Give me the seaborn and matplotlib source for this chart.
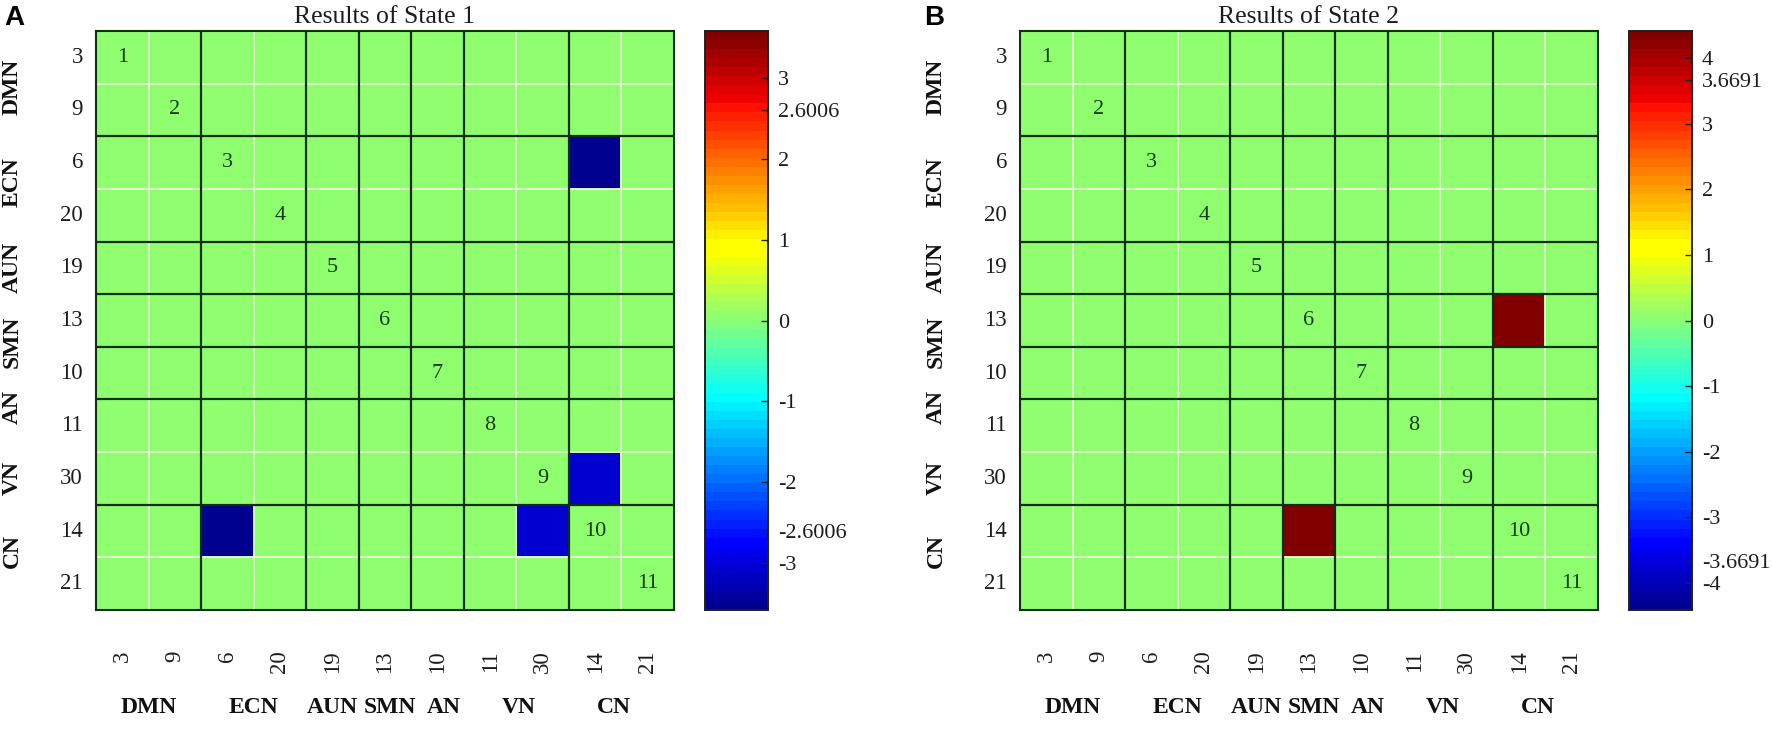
import numpy as np
import pandas as pd
import matplotlib
matplotlib.use("Agg")
import matplotlib.pyplot as plt
from matplotlib.colors import ListedColormap
import seaborn as sns

networks = ["3", "9", "6", "20", "19", "13", "10", "11", "30", "14", "21"]
diag_labels = ["1", "2", "3", "4", "5", "6", "7", "8", "9", "10", "11"]

# nonzero cells, (row network, column network, value)
state1_cells = [("6", "14", -3.52), ("14", "6", -3.52), ("30", "14", -3.1), ("14", "30", -3.1)]
state2_cells = [("13", "14", 4.4), ("14", "13", 4.4)]

state1_lim = 3.58
state2_lim = 4.41
state1_ticks = [-3, -2.6006, -2, -1, 0, 1, 2, 2.6006, 3]
state2_ticks = [-4, -3.6691, -3, -2, -1, 0, 1, 2, 3, 3.6691, 4]

group_names = ["DMN", "ECN", "AUN", "SMN", "AN", "VN", "CN"]
group_edges = [2, 4, 5, 6, 7, 9]
inner_edges = [1, 3, 8, 10]
group_x = [1.0, 3.0, 4.49, 5.6, 6.62, 8.05, 9.85]
group_y = [1.07, 2.88, 4.5, 5.9, 7.15, 8.5, 9.87]

plt.rcParams["font.family"] = ["Liberation Serif", "DejaVu Serif"]
W, H = 1772, 730
line_col = "#0f2f10"
text_col = "#1c1c1c"

# 64 level jet, its green at zero is a bit yellower than the matplotlib one
idx = np.arange(1, 65)
red = np.minimum((idx - 24) / 16, (72 - idx) / 16)
green = np.minimum((idx - 8) / 16, (57 - idx) / 16)
blue = np.minimum((idx + 8) / 16, (40 - idx) / 16)
jet64 = ListedColormap(np.clip(np.column_stack([red, green, blue]), 0, 1))


def panel(left, cbar_left, cells, lim, ticks, title, letter, letter_x):
    df = pd.DataFrame(0.0, index=networks, columns=networks)
    for r, c, v in cells:
        df.loc[r, c] = v
    annot = pd.DataFrame("", index=networks, columns=networks)
    for n, lab in zip(networks, diag_labels):
        annot.loc[n, n] = lab

    ax = fig.add_axes([left / W, 1 - 610 / H, 578 / W, 579 / H])
    cax = fig.add_axes([cbar_left / W, 1 - 610 / H, 63 / W, 579 / H])
    sns.heatmap(df, ax=ax, cbar_ax=cax, cmap=jet64, vmin=-lim, vmax=lim,
                annot=annot, fmt="", annot_kws={"fontsize": 16, "color": "#173a18"},
                xticklabels=networks, yticklabels=networks,
                cbar_kws={"ticks": ticks})

    # light lines inside the networks, dark ones between them
    ax.hlines(inner_edges, 0, 11, color="#dcf8c8", lw=1.4)
    ax.vlines(inner_edges, 0, 11, color="#dcf8c8", lw=1.4)
    ax.hlines(group_edges, 0, 11, color=line_col, lw=1.6)
    ax.vlines(group_edges, 0, 11, color=line_col, lw=1.6)
    for s in ax.spines.values():
        s.set_visible(True)
        s.set_color(line_col)
        s.set_linewidth(1.5)

    ax.tick_params(axis="both", length=0, labelsize=16.5, labelcolor=text_col)
    ax.tick_params(axis="x", pad=29)
    ax.tick_params(axis="y", pad=9.4)
    plt.setp(ax.get_xticklabels(), rotation=90)
    plt.setp(ax.get_yticklabels(), rotation=0)
    ax.set_xlabel("")
    ax.set_ylabel("")
    ax.set_title(title, fontsize=18.5, color=text_col, pad=6)

    for name, gx, gy in zip(group_names, group_x, group_y):
        ax.text(gx, 11 + 97 / 52.6, name, ha="center", va="center",
                fontsize=17, fontweight="bold", color="#111111")
        ax.text(-84 / 52.6, gy, name, ha="center", va="center", rotation=90,
                fontsize=17, fontweight="bold", color="#111111")

    cax.tick_params(axis="y", direction="in", length=5, width=1, color="#222222",
                    labelsize=16, labelcolor=text_col, pad=7)
    cax.set_yticklabels([f"{t:g}" for t in ticks])
    for s in cax.spines.values():
        s.set_visible(True)
        s.set_color("#202020")
        s.set_linewidth(1.2)
    cax.collections[0].set_edgecolor("face")

    fig.text(letter_x / W, 1 - 18 / H, letter, family="Liberation Sans", fontweight="bold",
             fontsize=20, ha="left", va="center", color="black")


fig = plt.figure(figsize=(W / 100, H / 100), dpi=100)
panel(96, 705, state1_cells, state1_lim, state1_ticks, "Results of State 1", "A", 4)
panel(1020, 1629, state2_cells, state2_lim, state2_ticks, "Results of State 2", "B", 924)
fig.savefig("out.png", dpi=100)
